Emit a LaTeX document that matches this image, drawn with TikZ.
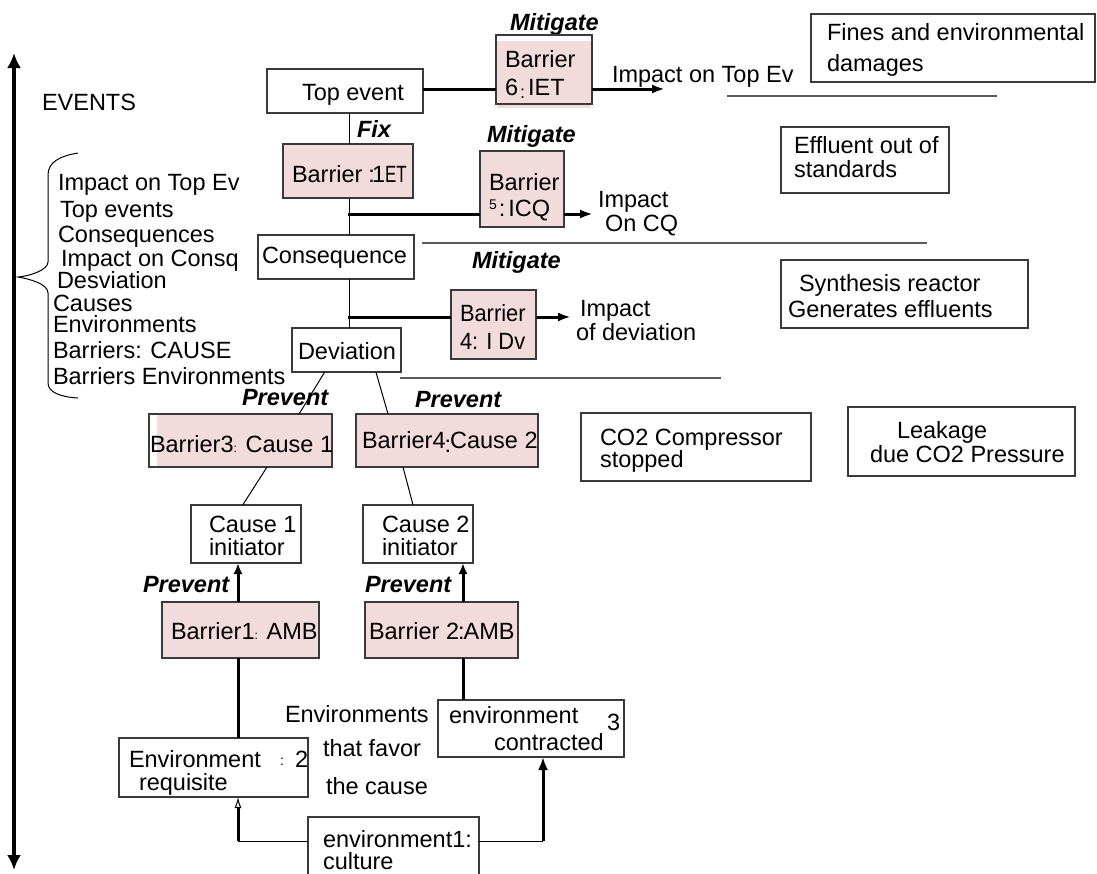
\documentclass[tikz,border=0pt]{standalone}
\usepackage{fontspec}
\usepackage{graphicx}
\setmainfont{Liberation Sans}
\usetikzlibrary{arrows.meta,calc}
\definecolor{barfill}{HTML}{F2DCDB}
\definecolor{edge}{HTML}{3A3A3A}
\definecolor{rulegray}{HTML}{5A5A5A}

% box from (x1,y1) to (x2,y2), y measured downwards
\newcommand{\mkbox}[6]{\node[#6, minimum width={#4-#2}, minimum height={#5-#3}] (#1) at ({(#2+#4)/2},{(#3+#5)/2}) {};}

\begin{document}
\begin{tikzpicture}[x=1pt,y=-1pt,
  every node/.style={font=\fontsize{23.5}{24}\selectfont},
  box/.style={draw=edge, line width=1.1pt, inner sep=0pt, outer sep=0pt},
  bar/.style={box, fill=barfill},
  lbl/.style={anchor=base west, inner sep=0pt, outer sep=0pt},
  act/.style={lbl, font=\fontsize{23.5}{24}\selectfont\bfseries\itshape},
  thinln/.style={draw=black, line width=1pt},
  heavy/.style={draw=black, line width=3pt},
  sepln/.style={draw=rulegray, line width=1.1pt},
  tipH/.style={-{Latex[length=13pt,width=9pt]}},
  tipU/.style={-{Latex[length=11pt,width=9pt]}},
  tipO/.style={-{Latex[open,length=11pt,width=7pt,line width=1pt]}},
]
\useasboundingbox (0,0) rectangle (1097,873);

% ---------- time axis and legend ----------
\coordinate (axtop) at (14,53);
\coordinate (axbot) at (14,870);
\draw[line width=3.2pt, {Latex[length=15pt,width=14pt]}-{Latex[length=15pt,width=14pt]}] (axtop) -- (axbot);
\node[lbl] (events) at (42,110) {EVENTS};

\draw[thinln] (78,153) .. controls (60,156) and (48,162) .. (48,175) -- (48,262)
  .. controls (48,270) and (30,276) .. (18,277)
  .. controls (30,279) and (48,284) .. (48,293) -- (48,383)
  .. controls (48,392) and (60,397) .. (78,398);
\node[lbl] (l1) at (58,190) {Impact on Top Ev};
\node[lbl] (l2) at (60,217) {Top events};
\node[lbl] (l3) at (58,242) {Consequences};
\node[lbl] (l4) at (61,266) {Impact on Consq};
\node[lbl] (l5) at (57,288) {Desviation};
\node[lbl] (l6) at (53,311) {Causes};
\node[lbl] (l7) at (53,332) {Environments};
\node[lbl] (l8) at (53,358) {Barriers: CAUSE};
\node[lbl] (l9) at (53,384) {Barriers Environments};

% ---------- main chain ----------
\mkbox{top}{267}{69}{423}{113}{box}
\node[lbl] (topT) at (302,100) {Top event};
\node[act] (fix) at (357,137) {Fix};

\mkbox{b1}{283}{144}{413}{198}{bar}
\node[lbl] (b1T) at (292,182) {Barrier\kern6pt:\kern-3pt1\scalebox{0.72}[1]{ET}};

\mkbox{cons}{258}{235}{414}{279}{box}
\node[lbl] (consT) at (262,263) {Consequence};

\mkbox{dev}{292}{328}{401}{372}{box}
\node[lbl] (devT) at (298,359) {Deviation};

\coordinate (tk) at (349,0);
\draw[thinln] (top.south -| tk) -- (b1.north -| tk);
\draw[thinln] (b1.south -| tk) -- (cons.north -| tk);
\draw[thinln] (cons.south -| tk) -- (dev.north -| tk);

% ---------- mitigation barrier on top event ----------
\node[act] (mit1) at (510,30) {Mitigate};
\fill[barfill] (497,41) rectangle (591,108);
\mkbox{b6}{496}{35}{592}{104}{box}
\node[lbl] (b6a) at (505,67) {Barrier};
\node[lbl] (b6b) at (505,95) {6\kern2pt\raisebox{-3pt}{\fontsize{18}{18}\selectfont:}\kern3pt IET};
\coordinate (y6) at (0,89);
\coordinate (e6) at (665,89);
\draw[heavy] (top.east |- y6) -- (b6.west |- y6);
\draw[heavy, tipH] (b6.east |- y6) -- (e6);
\node[lbl] (imp1) at (612,82) {Impact on Top Ev};

\mkbox{fines}{811}{14}{1095}{82}{box}
\node[lbl] (finesA) at (827,40) {Fines and environmental};
\node[lbl] (finesB) at (827,71) {damages};
\draw[sepln] (727,96) -- (997,96);

% ---------- mitigation barrier on consequence ----------
\node[act] (mit2) at (487,142) {Mitigate};
\mkbox{b5}{480}{151}{564}{227}{bar}
\node[lbl] (b5a) at (489,190) {Barrier};
\node[lbl] (b5b) at (489,216) {{\fontsize{14}{14}\selectfont\raisebox{7pt}{5}}\kern2pt:\kern3pt ICQ};
\coordinate (h5) at (348,214);
\coordinate (e5) at (593,214);
\draw[heavy] (h5) -- (h5 -| b5.west);
\draw[heavy, tipH] (h5 -| b5.east) -- (e5);
\node[lbl] (imp2a) at (598,207) {Impact};
\node[lbl] (imp2b) at (605,231) {On CQ};

\mkbox{effl}{781}{127}{949}{193}{box}
\node[lbl] (efflA) at (794,153) {Effluent out of};
\node[lbl] (efflB) at (794,177) {standards};
\draw[sepln] (422,243) -- (927,243);

% ---------- mitigation barrier on deviation ----------
\node[act] (mit3) at (472,268) {Mitigate};
\mkbox{b4d}{451}{290}{536}{359}{bar}
\node[lbl] (b4da) at (460,321) {\scalebox{0.93}[1]{Barrier}};
\node[lbl] (b4db) at (460,349) {\scalebox{0.93}[1]{4: I Dv}};
\coordinate (h4) at (348,317);
\coordinate (e4) at (571,317);
\draw[heavy] (h4) -- (h4 -| b4d.west);
\draw[heavy, tipH] (h4 -| b4d.east) -- (e4);
\node[lbl] (imp3a) at (580,316) {Impact};
\node[lbl] (imp3b) at (576,340) {of deviation};

\mkbox{synth}{781}{260}{1028}{328}{box}
\node[lbl] (synthA) at (799,291) {Synthesis reactor};
\node[lbl] (synthB) at (788,317) {Generates effluents};
\draw[sepln] (400,378) -- (721,378);

% ---------- cause side ----------
\node[act] (prev1) at (242,405) {Prevent};
\node[act] (prev2) at (415,407) {Prevent};

\fill[barfill] (157,415) rectangle (331.5,466.5);
\mkbox{b3}{149}{414}{332}{467}{box}
\node[lbl] (b3T) at (150,452) {Barrier3{\fontsize{12}{12}\selectfont:} Cause 1};
\mkbox{b4c}{356}{414}{538}{467}{bar}
\node[lbl] (b4cT) at (362,448) {Barrier4\kern-1pt\raisebox{-4pt}{:}\kern-1pt Cause 2};

\draw[thinln] ($(dev.south west)!0.30!(dev.south east)$) -- ($(b3.north west)!0.82!(b3.north east)$);
\draw[thinln] ($(dev.south west)!0.77!(dev.south east)$) -- ($(b4c.north west)!0.176!(b4c.north east)$);

\mkbox{co2}{581}{413}{811}{481}{box}
\node[lbl] (co2A) at (600,445) {CO2 Compressor};
\node[lbl] (co2B) at (600,467) {stopped};
\mkbox{leak}{848}{407}{1075}{476}{box}
\node[lbl] (leakA) at (897,438) {Leakage};
\node[lbl] (leakB) at (870,462) {due CO2 Pressure};

\mkbox{c1}{191}{505}{301}{563}{box}
\node[lbl] (c1a) at (209,532) {Cause 1};
\node[lbl] (c1b) at (209,555) {initiator};
\mkbox{c2}{363}{505}{473}{563}{box}
\node[lbl] (c2a) at (382,532) {Cause 2};
\node[lbl] (c2b) at (382,555) {initiator};

\draw[thinln] ($(b3.south west)!0.645!(b3.south east)$) -- ($(c1.north west)!0.47!(c1.north east)$);
\draw[thinln] ($(b4c.south west)!0.258!(b4c.south east)$) -- ($(c2.north west)!0.455!(c2.north east)$);

\node[act] (prev3) at (143,592) {Prevent};
\node[act] (prev4) at (365,592) {Prevent};

\mkbox{b1a}{162}{602}{319}{658}{bar}
\node[lbl] (b1aT) at (171,639) {Barrier1{\fontsize{12}{12}\selectfont:} AMB};
\mkbox{b2a}{365}{602}{518}{658}{bar}
\node[lbl] (b2aT) at (369,639) {Barrier 2\kern-1pt:\kern-1pt AMB};

\coordinate (xa) at (238,0);
\coordinate (xb) at (463,0);
\draw[heavy, tipU] (b1a.north -| xa) -- (c1.south -| xa);
\draw[heavy, tipU] (b2a.north -| xb) -- (c2.south -| xb);

% ---------- environments ----------
\mkbox{envr}{119}{738}{308}{797}{box}
\node[lbl] (envrA) at (129,767) {Environment};
\node[lbl] (envrC) at (280,765) {\fontsize{14}{14}\selectfont:};
\node[lbl] (envrD) at (295,767) {2};
\node[lbl] (envrB) at (139,790) {requisite};

\mkbox{envc}{438}{700}{624}{757}{box}
\node[lbl] (envcA) at (449,723) {environment};
\node[lbl] (envcB) at (494,750) {contracted};
\node[lbl] (envcC) at (607,730) {3};

\node[lbl] (fav1) at (285,722) {Environments};
\node[lbl] (fav2) at (323,756) {that favor};
\node[lbl] (fav3) at (326,794) {the cause};

\draw[heavy] (b1a.south -| xa) -- (envr.north -| xa);
\draw[heavy] (b2a.south -| xb) -- (envc.north -| xb);

\mkbox{env1}{308}{817}{479}{885}{box}
\node[lbl] (env1A) at (323,847) {environment1:};
\node[lbl] (env1B) at (323,869) {culture};

\coordinate (jl) at (238,841);
\coordinate (jr) at (543,841);
\draw[thinln] (env1.west |- jl) -- (jl);
\draw[heavy, tipO] (jl) -- (envr.south -| jl);
\draw[thinln] (env1.east |- jr) -- (jr);
\draw[heavy, -{Latex[length=13pt,width=10pt]}] (jr) -- (envc.south -| jr);

\end{tikzpicture}
\end{document}
